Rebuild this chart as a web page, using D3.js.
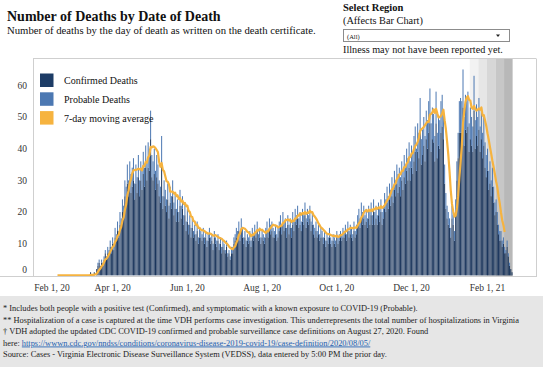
<!DOCTYPE html>
<html>
<head>
<meta charset="utf-8">
<script src="https://cdn.jsdelivr.net/npm/d3@7"></script>
<style>
body{margin:0;background:#fff;}
text{font-family:"Liberation Serif","Times New Roman",serif;fill:#222;}
</style>
</head>
<body>
<div id="chart_deaths"></div>
<script>

// first day of the daily series (Feb 16, 2020), one value per day after that
var firstDay = "2020-02-16";

// total deaths per day (confirmed + probable)
var totalDeaths = [
	0,0,0,0,0,0,0,
	0,0,0,0,0,0,0,
	0,0,0,0,0,0,0,
	0,0,0,0,0,0,1,
	0,0,1,0,2,4,5,
	3,5,4,6,8,6,9,
	8,11,9,12,10,15,13,
	17,14,20,18,24,22,30,
	28,35,30,36,32,34,37,
	29,35,31,38,30,36,33,
	39,34,41,36,42,40,52,
	38,36,40,33,38,35,30,
	28,44,25,30,27,24,29,
	22,28,25,30,23,26,21,
	24,20,27,22,25,19,23,
	17,21,16,19,15,18,14,
	16,13,17,12,15,14,13,
	15,12,14,11,13,15,12,
	13,10,14,12,11,13,10,
	12,9,11,10,8,11,7,
	8,6,9,9,12,13,15,
	14,17,13,18,15,12,14,
	11,13,12,14,11,15,13,
	16,14,17,13,15,12,14,
	13,12,15,17,14,18,16,
	17,15,14,16,13,15,17,
	19,16,20,17,18,15,19,
	16,18,15,20,17,21,19,
	22,18,20,17,21,19,23,
	18,21,19,22,17,20,16,
	15,17,14,16,13,15,14,
	12,14,11,13,12,15,12,
	11,13,12,11,14,12,13,
	14,13,15,14,16,13,17,
	14,16,15,13,17,14,16,
	19,21,18,23,20,22,19,
	21,18,22,20,23,19,24,
	20,22,19,23,21,24,20,
	22,26,24,28,25,29,27,
	31,28,33,30,35,32,34,
	31,36,33,38,35,40,37,
	42,36,41,39,44,47,40,
	48,45,56,43,46,50,44,
	52,49,55,59,48,53,51,
	44,58,45,50,49,55,57,
	52,35,26,22,20,18,15,
	22,19,14,24,36,45,55,
	56,55,65,50,57,55,58,
	48,53,50,47,63,49,54,
	50,56,47,52,45,50,42,
	38,40,33,36,30,34,28,
	23,24,20,16,14,14,11,
	12,9,8,11,7,4,2,
	1
];

// probable deaths per day (top part of each bar)
var probableDeaths = [
	0,0,0,0,0,0,0,
	0,0,0,0,0,0,0,
	0,0,0,0,0,0,0,
	0,0,0,0,0,0,0,
	0,0,0,0,0,1,1,
	0,1,1,1,1,1,2,
	1,2,2,2,2,3,2,
	3,2,4,3,4,4,5,
	5,6,5,6,6,6,7,
	5,6,5,7,5,6,6,
	7,6,7,6,8,7,9,
	7,6,8,6,7,6,5,
	5,8,4,5,5,4,5,
	4,5,4,5,4,5,4,
	4,3,5,4,4,3,4,
	3,4,3,3,3,3,2,
	3,2,3,2,3,2,2,
	3,2,2,2,2,3,2,
	2,2,2,2,2,2,2,
	2,2,2,2,1,2,1,
	1,1,2,2,2,2,3,
	2,3,2,3,3,2,2,
	2,2,2,3,2,3,2,
	3,2,3,2,3,2,2,
	2,2,3,3,2,3,3,
	3,3,2,3,2,3,3,
	3,3,4,3,3,3,3,
	3,3,3,4,3,4,3,
	4,3,4,3,4,3,4,
	3,4,3,4,3,4,3,
	3,3,2,3,2,3,2,
	2,2,2,2,2,3,2,
	2,2,2,2,2,2,2,
	2,2,3,2,3,2,3,
	2,3,3,2,3,2,3,
	3,4,3,4,4,4,3,
	4,3,4,4,4,3,4,
	4,4,3,4,4,4,4,
	4,5,4,5,4,5,5,
	6,5,6,5,6,6,6,
	6,6,6,7,6,7,7,
	8,6,7,7,8,8,7,
	9,8,10,8,8,9,8,
	9,9,10,11,9,10,9,
	8,10,8,9,9,10,10,
	9,6,5,4,4,3,3,
	4,3,3,4,6,8,10,
	11,10,12,9,11,10,11,
	9,10,9,8,11,9,10,
	9,10,8,9,8,9,8,
	7,7,6,7,5,6,5,
	4,4,4,3,3,3,2,
	2,2,1,2,1,1,0,
	0
];

// the moving average line stops here
var maLastDay = "2021-02-15";

// weeks shaded grey (recent data, still incomplete)
var incompleteWeeks = ["2021-01-19","2021-01-26","2021-02-02","2021-02-09","2021-02-16"];
var weekShades = ["#f2f2f2","#e6e6e6","#d7d7d7","#c7c7c7","#b8b8b8"];

var yTicks = [0,10,20,30,40,50,60];
var xTickDates = ["2020-02-01","2020-04-01","2020-06-01","2020-08-01","2020-10-01","2020-12-01","2021-02-01"];

var legendItems = [
	{label:"Confirmed Deaths", color:"#1d3c66"},
	{label:"Probable Deaths", color:"#4c78b2"},
	{label:"7-day moving average", color:"#f6b33f"}
];

var footnotes = [
	"* Includes both people with a positive test (Confirmed), and symptomatic with a known exposure to COVID-19 (Probable).",
	"** Hospitalization of a case is captured at the time VDH performs case investigation. This underrepresents the total number of hospitalizations in Virginia",
	"\u2020 VDH adopted the updated CDC COVID-19 confirmed and probable surveillance case definitions on August 27, 2020. Found",
	"here: ",
	"Source:  Cases - Virginia Electronic Disease Surveillance System (VEDSS), data entered by 5:00 PM the prior day."
];
var footLink = "https://wwwn.cdc.gov/nndss/conditions/coronavirus-disease-2019-covid-19/case-definition/2020/08/05/";

var confColor = "#1a355c", probColor = "#4c78b2", maColor = "#f6b33f";
var fmt = d3.timeFormat("%b %-d, %y");
var parseDay = d3.utcParse("%Y-%m-%d");
var oneDay = 864e5;

var W = 552, H = 383;
var plot = {left:33, right:536, top:59, bottom:276};

var svg = d3.select("#chart_deaths")
	.append("svg")
	.attr("width", W)
	.attr("height", H);

// build the daily rows
var start = parseDay(firstDay);
var data = totalDeaths.map(function(t, i){
	return {date:new Date(start.getTime() + i*oneDay), total:t, probable:probableDeaths[i], confirmed:t - probableDeaths[i]};
});

// trailing 7 day average
data.forEach(function(d, i){
	var win = data.slice(Math.max(0, i-6), i+1);
	d.avg = d3.mean(win, function(k){return k.total;});
});
var maData = data.filter(function(d){return d.date <= parseDay(maLastDay);});

var x = d3.scaleUtc()
	.domain([new Date(Date.UTC(2020,0,27)), new Date(Date.UTC(2021,2,12,14))])
	.range([plot.left, plot.right]);

var y = d3.scaleLinear()
	.domain([0, 68.3])
	.range([275.4, plot.top]);

var barW = 1.0;

// ---- header
svg.append("text").attr("x",7).attr("y",21)
	.style("font-size","14px").style("font-weight","bold").style("fill","#111")
	.text("Number of Deaths by Date of Death");
svg.append("text").attr("x",7).attr("y",33.5)
	.style("font-size","10.7px").style("fill","#111")
	.text("Number of deaths by the day of death as written on the death certificate.");

svg.append("text").attr("x",343).attr("y",11)
	.style("font-size","10.5px").style("font-weight","bold").style("fill","#111")
	.text("Select Region");
svg.append("text").attr("x",343).attr("y",24)
	.style("font-size","10.3px").style("fill","#111")
	.text("(Affects Bar Chart)");
svg.append("rect").attr("x",343.5).attr("y",29.5).attr("width",166).attr("height",12)
	.style("fill","#fff").style("stroke","#8c8c8c").style("stroke-width","1px");
svg.append("text").attr("x",347).attr("y",38.5)
	.style("font-size","6.5px").style("fill","#111")
	.text("(All)");
svg.append("path").attr("d","M496,34.5 L500,34.5 L498,37 Z").style("fill","#222");
svg.append("text").attr("x",343).attr("y",52.5)
	.style("font-size","10.2px").style("fill","#111")
	.text("Illness may not have been reported yet.");

// ---- chart frame
var chart = svg.append("g").attr("class","compChart");

chart.selectAll(".week")
	.data(incompleteWeeks)
	.enter().append("rect")
	.attr("class","week")
	.attr("x", function(d){return x(new Date(parseDay(d).getTime() - oneDay*1.5));})
	.attr("width", function(d){
		var s = parseDay(d).getTime() - oneDay*1.5;
		return x(new Date(s + 7*oneDay)) - x(new Date(s));
	})
	.attr("y", plot.top)
	.attr("height", plot.bottom - plot.top)
	.style("fill", function(d, i){return weekShades[i];});

// bars: confirmed at bottom, probable stacked on top
var bars = chart.selectAll(".day")
	.data(data.filter(function(d){return d.total > 0;}))
	.enter().append("g")
	.attr("class","day");

bars.append("rect")
	.attr("x", function(d){return x(d.date) - barW/2;})
	.attr("width", barW)
	.attr("y", function(d){return y(d.confirmed);})
	.attr("height", function(d){return y(0) - y(d.confirmed);})
	.style("fill", confColor);

bars.append("rect")
	.attr("x", function(d){return x(d.date) - barW/2;})
	.attr("width", barW)
	.attr("y", function(d){return y(d.total);})
	.attr("height", function(d){return y(d.confirmed) - y(d.total);})
	.style("fill", probColor);

var line = d3.line()
	.x(function(d){return x(d.date);})
	.y(function(d){return y(d.avg);});

chart.append("path")
	.datum(maData)
	.attr("d", line)
	.style("fill","none")
	.style("stroke", maColor)
	.style("stroke-width","2.2px")
	.style("stroke-linejoin","round");

// frame lines
chart.append("line").attr("x1",plot.left).attr("x2",plot.right).attr("y1",plot.top-0.5).attr("y2",plot.top-0.5)
	.style("stroke","#cfcfcf").style("stroke-width","1px");
chart.append("line").attr("x1",plot.right+0.5).attr("x2",plot.right+0.5).attr("y1",plot.top-0.5).attr("y2",plot.bottom)
	.style("stroke","#cfcfcf").style("stroke-width","1px");
chart.append("line").attr("x1",plot.left+0.5).attr("x2",plot.left+0.5).attr("y1",plot.top-0.5).attr("y2",plot.bottom)
	.style("stroke","#cfcfcf").style("stroke-width","1px");
chart.append("line").attr("x1",0).attr("x2",plot.right+1).attr("y1",plot.bottom+0.5).attr("y2",plot.bottom+0.5)
	.style("stroke","#cfcfcf").style("stroke-width","1px");

// y labels (bottom one is nudged up like the original)
chart.selectAll(".ylab")
	.data(yTicks)
	.enter().append("text")
	.attr("class","ylab")
	.attr("x", 27)
	.attr("y", function(d){return d == 0 ? y(d) - 6 : y(d);})
	.attr("dy","0.35em")
	.style("text-anchor","end")
	.style("font-size","9.5px")
	.style("fill","#333")
	.text(function(d){return d;});

// x labels
chart.selectAll(".xlab")
	.data(xTickDates)
	.enter().append("text")
	.attr("class","xlab")
	.attr("x", function(d){return Math.max(x(parseDay(d)), 52);})
	.attr("y", 291)
	.style("text-anchor","middle")
	.style("font-size","9.5px")
	.style("fill","#333")
	.text(function(d){return fmt(parseDay(d));});

// legend
var leg = chart.selectAll(".legend")
	.data(legendItems)
	.enter().append("g")
	.attr("class","legend")
	.attr("transform", function(d, i){return "translate(40," + (73.5 + i*18.8) + ")";});
leg.append("rect").attr("width",13.5).attr("height",13.5)
	.style("fill", function(d){return d.color;});
leg.append("text").attr("x",24).attr("y",10.5)
	.style("font-size","10px").style("fill","#111")
	.text(function(d){return d.label;});

// ---- footnotes
var foot = svg.append("g");
foot.append("rect").attr("x",0).attr("y",296).attr("width",543).attr("height",71)
	.style("fill","#e6e6e6");
var footText = foot.selectAll(".note")
	.data(footnotes)
	.enter().append("text")
	.attr("class","note")
	.attr("x",3)
	.attr("y", function(d, i){return 311 + i*11.5;})
	.style("font-size","8.4px")
	.style("fill","#222")
	.text(function(d){return d;});
d3.select(footText.nodes()[3]).append("tspan")
	.style("fill","#1f5fb0")
	.style("text-decoration","underline")
	.text(footLink);

</script>
</body>
</html>
